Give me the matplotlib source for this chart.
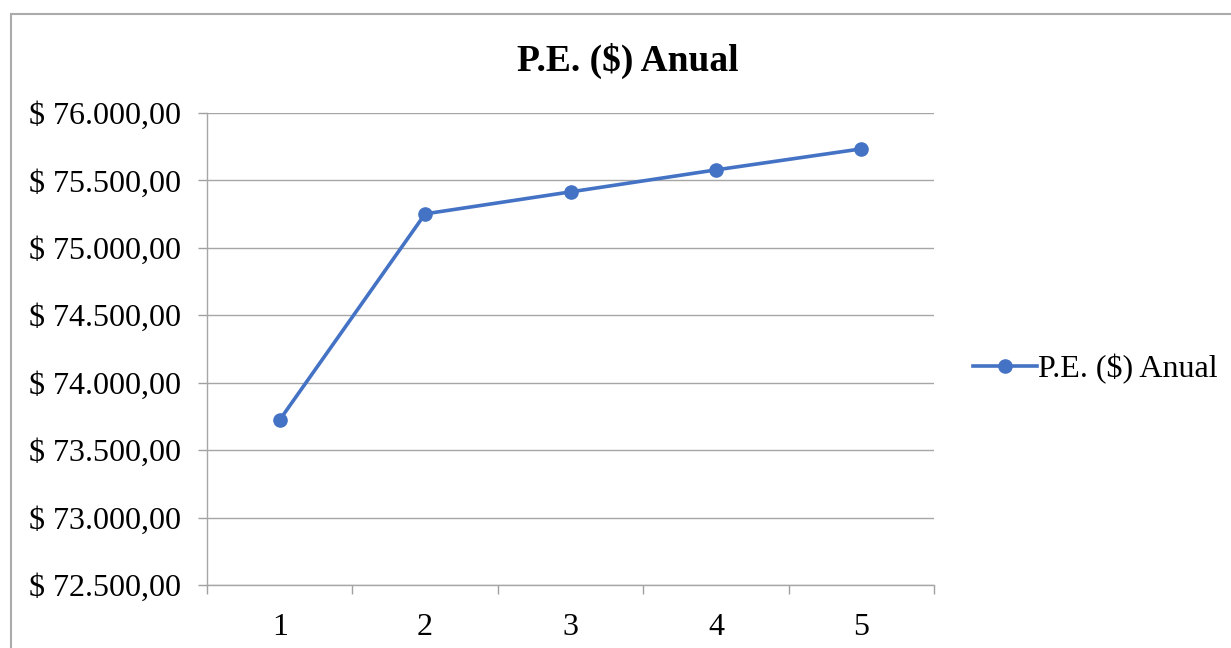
import matplotlib
matplotlib.use("Agg")
import matplotlib.pyplot as plt
from matplotlib.ticker import FuncFormatter, FixedLocator
from matplotlib.patches import Rectangle

categories = ["1", "2", "3", "4", "5"]
values = [73724, 75252, 75415, 75578, 75734]
series_name = "P.E. ($) Anual"
title = "P.E. ($) Anual"

plt.rcParams['font.family'] = ['Liberation Serif', 'DejaVu Serif']

fig = plt.figure(figsize=(12.31, 6.48), dpi=100)
ax = fig.add_axes([207/1231, 1-585/648, (934-207)/1231, (585-113)/648])

x = list(range(1, len(categories) + 1))
line, = ax.plot(x, values, color='#4472C4', lw=2.6, marker='o', markersize=9.5,
                label=series_name, zorder=3)

ax.set_xlim(0.5, len(categories) + 0.5)
ax.set_ylim(72500, 76000)
ax.set_yticks([72500 + 500*i for i in range(8)])

def fmt(v, pos):
    s = f"{v:,.2f}".replace(",", "X").replace(".", ",").replace("X", ".")
    return "$ " + s
ax.yaxis.set_major_formatter(FuncFormatter(fmt))

ax.xaxis.set_major_locator(FixedLocator([i + 0.5 for i in range(len(categories) + 1)]))
ax.xaxis.set_major_formatter(FuncFormatter(lambda v, p: ""))
ax.xaxis.set_minor_locator(FixedLocator(x))
ax.set_xticklabels(categories, minor=True)
ax.tick_params(axis='x', which='minor', length=0, pad=20, labelsize=23)
ax.tick_params(axis='x', which='major', length=6.5, color='#A0A0A0', width=1)
ax.tick_params(axis='y', length=6.5, color='#A0A0A0', width=1, pad=12, labelsize=23)

ax.grid(axis='y', color='#A6A6A6', lw=1)
ax.set_axisbelow(True)
for s in ['top', 'right']:
    ax.spines[s].set_visible(False)
ax.spines['left'].set_color('#A6A6A6')
ax.spines['bottom'].set_color('#A6A6A6')
ax.spines['left'].set_linewidth(1)
ax.spines['bottom'].set_linewidth(1)

fig.text(628/1231, 1-61/648, title, ha='center', va='center', fontsize=27, fontweight='bold')

fig.legend(handles=[line], loc='center left', bbox_to_anchor=(960/1231, 1-369/648),
           frameon=False, fontsize=23, handlelength=2.0, handletextpad=0.05, borderaxespad=0)

fig.patches.append(Rectangle((11/1231, -0.1), 1.2, 1-14/648+0.1, transform=fig.transFigure,
                             fill=False, edgecolor='#ABABAB', lw=1.5))

fig.savefig("out.png", dpi=100)
